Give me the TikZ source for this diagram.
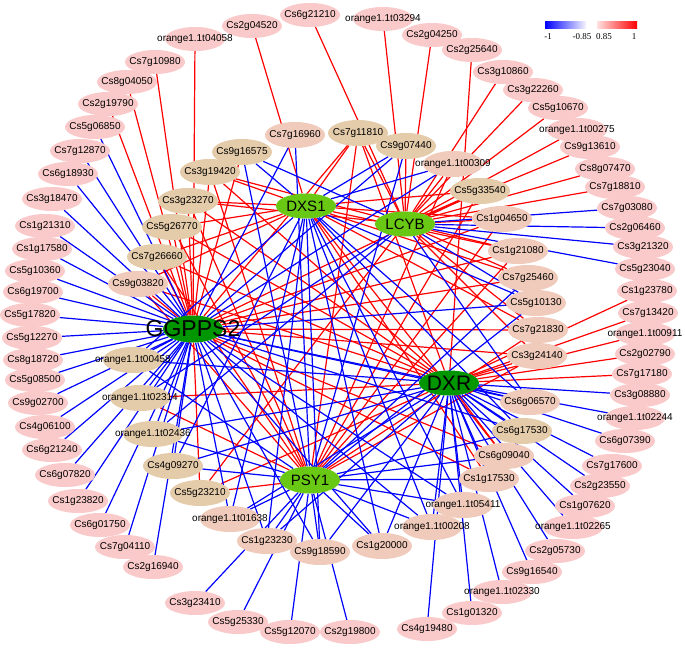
\documentclass[tikz,border=0pt]{standalone}
\usepackage{fontspec}
\setmainfont{Liberation Sans}
\newfontfamily\legfont{Liberation Serif}
\usepackage{tikz}
\usetikzlibrary{shapes.geometric}
\pgfdeclarelayer{background}
\pgfsetlayers{background,main}
\definecolor{genefill}{RGB}{250,202,202}
\definecolor{sharedfill}{RGB}{228,203,170}
\definecolor{sharedltfill}{RGB}{240,202,186}
\definecolor{hublt}{RGB}{104,200,20}
\definecolor{hubdk}{RGB}{0,150,0}
\tikzstyle{gene}=[ellipse,fill=genefill,minimum width=60pt,minimum height=24pt,inner sep=0pt,font=\fontsize{10}{12}\selectfont]
\tikzstyle{shared}=[gene,fill=sharedfill,minimum height=26pt]
\tikzstyle{sharedlt}=[gene,fill=sharedltfill,minimum height=26pt]
\tikzstyle{hub}=[ellipse,fill=hublt,minimum width=60pt,minimum height=25pt,inner sep=0pt,font=\fontsize{15}{18}\selectfont]
\tikzstyle{bighub}=[hub,fill=hubdk,font=\fontsize{21}{24}\selectfont]
\tikzstyle{redge}=[draw,red,line width=1.2pt]
\tikzstyle{bedge}=[draw,blue,line width=1.2pt]
\tikzstyle{legend}=[inner sep=0pt,font=\legfont\fontsize{9}{10}\selectfont]

\begin{document}
\begin{tikzpicture}[x=1pt,y=-1pt]
    \useasboundingbox (0,0) rectangle (685,648);
    % Outer ring of genes
    \foreach \pos/\name in {{(252,26)/Cs2g04520}, {(310,15)/Cs6g21210}, {(432,35)/Cs2g04250},
        {(472,50)/Cs2g25640}, {(503,72)/Cs3g10860}, {(533,90)/Cs3g22260}, {(558,108)/Cs5g10670},
        {(590,147)/Cs9g13610}, {(605,169)/Cs8g07470}, {(615,187)/Cs7g18810}, {(627,208)/Cs7g03080},
        {(635,228)/Cs2g06460}, {(643,247)/Cs3g21320}, {(645,269)/Cs5g23040}, {(647,291)/Cs1g23780},
        {(648,313)/Cs7g13420}, {(645,354)/Cs2g02790}, {(642,374)/Cs7g17180}, {(640,395)/Cs3g08880},
        {(625,441)/Cs6g07390}, {(612,466)/Cs7g17600}, {(600,486)/Cs2g23550}, {(585,506)/Cs1g07620},
        {(555,551)/Cs2g05730}, {(532,572)/Cs9g16540}, {(472,613)/Cs1g01320}, {(427,629)/Cs4g19480},
        {(350,632)/Cs2g19800}, {(290,632)/Cs5g12070}, {(238,622)/Cs5g25330}, {(195,603)/Cs3g23410},
        {(153,567)/Cs2g16940}, {(125,547)/Cs7g04110}, {(100,525)/Cs6g01750}, {(78,501)/Cs1g23820},
        {(65,475)/Cs6g07820}, {(52,450)/Cs6g21240}, {(45,427)/Cs4g06100}, {(38,403)/Cs9g02700},
        {(35,380)/Cs5g08500}, {(33,360)/Cs8g18720}, {(32,338)/Cs5g12270}, {(30,315)/Cs5g17820},
        {(33,292)/Cs6g19700}, {(35,271)/Cs5g10360}, {(42,249)/Cs1g17580}, {(45,226)/Cs1g21310},
        {(52,199)/Cs3g18470}, {(68,174)/Cs6g18930}, {(80,151)/Cs7g12870}, {(95,127)/Cs5g06850},
        {(108,104)/Cs2g19790}, {(127,82)/Cs8g04050}, {(155,62)/Cs7g10980}}
        \node[gene] (\name) at \pos {\makebox[0pt]{\name}};
    \foreach \pos/\num in {{(195,39)/04058}, {(383,19)/03294}, {(577,130)/00275}, {(645,334)/00911},
        {(635,418)/02244}, {(573,527)/02265}, {(502,592)/02330}}
        \node[gene] (o\num) at \pos {\makebox[0pt]{orange1.1t\num}};
    % Genes shared by several hubs
    \foreach \pos/\name in {{(242,152)/Cs9g16575}, {(210,172)/Cs3g19420}, {(188,201)/Cs3g23270},
        {(172,227)/Cs5g26770}, {(157,257)/Cs7g26660}, {(358,133)/Cs7g11810}, {(406,146)/Cs9g07440},
        {(480,191)/Cs5g33540}, {(173,466)/Cs4g09270}, {(200,493)/Cs5g23210}, {(522,431)/Cs6g17530}}
        \node[shared] (\name) at \pos {\makebox[0pt]{\name}};
    \foreach \pos/\num in {{(133,360)/00458}, {(140,398)/02314}, {(153,434)/02436}}
        \node[shared] (o\num) at \pos {\makebox[0pt]{orange1.1t\num}};
    \foreach \pos/\name in {{(295,135)/Cs7g16960}, {(138,284)/Cs9g03820}, {(502,219)/Cs1g04650},
        {(518,251)/Cs1g21080}, {(528,278)/Cs7g25460}, {(536,303)/Cs5g10130}, {(538,330)/Cs7g21830},
        {(537,356)/Cs3g24140}, {(530,402)/Cs6g06570}, {(504,456)/Cs6g09040}, {(489,479)/Cs1g17530},
        {(382,546)/Cs1g20000}, {(320,552)/Cs9g18590}, {(267,541)/Cs1g23230}}
        \node[sharedlt] (\name) at \pos {\makebox[0pt]{\name}};
    \foreach \pos/\num in {{(453,164)/00309}, {(463,505)/05411}, {(432,527)/00208}, {(230,519)/01638}}
        \node[sharedlt] (o\num) at \pos {\makebox[0pt]{orange1.1t\num}};
    % Hubs
    \node[hub] (DXS1) at (306,206) {\makebox[0pt]{DXS1}};
    \node[hub] (LCYB) at (405,224) {\makebox[0pt]{LCYB}};
    \node[hub,minimum height=27pt] (PSY1) at (310,480) {\makebox[0pt]{PSY1}};
    \node[bighub,minimum height=27pt,font=\fontsize{23}{27}\selectfont] (GGPPS2) at (193,329) {\makebox[0pt]{GGPPS2}};
    \node[bighub] (DXR) at (449,383) {\makebox[0pt]{DXR}};
    % Legend
    \shade[left color=blue,right color=blue!4] (545,21) rectangle (586,28);
    \shade[left color=red!12,right color=red] (597,21) rectangle (637,28);
    \foreach \pos/\name/\txt in {{(548,37)/lmone/-1}, {(582,37)/lmlow/-0.85}, {(604,37)/lplow/0.85}, {(634,37)/lpone/1}}
        \node[legend] (\name) at \pos {\txt};
    % Connect genes with hubs
    \begin{pgfonlayer}{background}
    \foreach \source/\dest in {o04058/GGPPS2, Cs7g10980/GGPPS2, Cs8g04050/GGPPS2, Cs2g19790/GGPPS2,
        Cs2g04520/DXS1, Cs6g21210/LCYB, o03294/LCYB, Cs2g04250/LCYB, Cs2g25640/DXR, Cs3g10860/LCYB,
        Cs3g22260/LCYB, Cs5g10670/LCYB, o00275/LCYB, Cs9g13610/LCYB, Cs8g07470/LCYB, Cs7g18810/LCYB,
        Cs1g23780/DXR, Cs7g13420/DXR, o00911/DXR, Cs2g02790/DXR, Cs7g17180/DXR,
        Cs9g16575/GGPPS2, Cs3g19420/DXS1, Cs3g19420/GGPPS2, Cs3g19420/LCYB, Cs3g19420/DXR, Cs3g19420/PSY1,
        Cs3g23270/DXS1, Cs3g23270/GGPPS2, Cs3g23270/LCYB, Cs3g23270/DXR, Cs3g23270/PSY1,
        Cs5g26770/DXS1, Cs5g26770/GGPPS2, Cs5g26770/DXR, Cs5g26770/PSY1,
        Cs7g26660/DXS1, Cs7g26660/GGPPS2, Cs7g26660/DXR, Cs7g26660/PSY1,
        Cs9g03820/GGPPS2, Cs9g03820/DXS1, Cs9g03820/DXR, Cs9g03820/PSY1,
        Cs7g11810/GGPPS2, Cs7g11810/DXS1, Cs7g11810/LCYB, Cs7g11810/PSY1, Cs7g11810/DXR,
        Cs9g07440/LCYB, o00309/LCYB, o00309/PSY1,
        Cs5g33540/LCYB, Cs5g33540/DXS1, Cs5g33540/GGPPS2, Cs5g33540/PSY1,
        Cs1g04650/LCYB, Cs1g04650/DXS1, Cs1g04650/GGPPS2, Cs1g04650/PSY1,
        Cs1g21080/LCYB, Cs1g21080/DXS1, Cs1g21080/PSY1, Cs1g21080/GGPPS2,
        Cs7g25460/LCYB, Cs7g25460/DXS1, Cs7g25460/GGPPS2,
        Cs7g21830/LCYB, Cs7g21830/DXS1, Cs7g21830/GGPPS2, Cs7g21830/PSY1,
        Cs3g24140/DXR, Cs3g24140/GGPPS2, Cs3g24140/LCYB, Cs3g24140/PSY1,
        Cs6g09040/DXR, Cs6g09040/GGPPS2, Cs6g09040/DXS1, Cs1g17530/GGPPS2, Cs1g17530/DXS1,
        Cs5g23210/PSY1, Cs5g23210/GGPPS2, Cs5g23210/DXR, Cs5g23210/LCYB,
        o02314/DXR, o02314/PSY1}
        \path[redge] (\source) -- (\dest);
    \foreach \source/\dest in {Cs7g03080/LCYB, Cs2g06460/LCYB, Cs3g21320/LCYB, Cs5g23040/LCYB,
        Cs3g08880/DXR, o02244/DXR, Cs6g07390/DXR, Cs7g17600/DXR, Cs2g23550/DXR, Cs1g07620/DXR,
        o02265/DXR, Cs2g05730/DXR, Cs9g16540/DXR, o02330/DXR, Cs1g01320/DXR, Cs4g19480/DXR,
        Cs2g19800/PSY1, Cs5g12070/PSY1, Cs5g25330/PSY1, Cs3g23410/PSY1,
        Cs2g16940/GGPPS2, Cs7g04110/GGPPS2, Cs6g01750/GGPPS2, Cs1g23820/GGPPS2, Cs6g07820/GGPPS2,
        Cs6g21240/GGPPS2, Cs4g06100/GGPPS2, Cs9g02700/GGPPS2, Cs5g08500/GGPPS2, Cs8g18720/GGPPS2,
        Cs5g12270/GGPPS2, Cs5g17820/GGPPS2, Cs6g19700/GGPPS2, Cs5g10360/GGPPS2, Cs1g17580/GGPPS2,
        Cs1g21310/GGPPS2, Cs3g18470/GGPPS2, Cs6g18930/GGPPS2, Cs7g12870/GGPPS2, Cs5g06850/GGPPS2,
        Cs9g16575/DXS1, Cs9g16575/LCYB, Cs9g16575/PSY1,
        Cs7g16960/GGPPS2, Cs7g16960/PSY1, Cs9g07440/DXS1, Cs9g07440/GGPPS2, Cs9g07440/PSY1,
        o00309/DXS1, o00309/GGPPS2, Cs7g25460/PSY1,
        Cs5g10130/LCYB, Cs5g10130/DXS1, Cs5g10130/PSY1, Cs5g10130/GGPPS2,
        Cs6g06570/DXR, Cs6g06570/GGPPS2, Cs6g06570/LCYB, Cs6g06570/DXS1,
        Cs6g17530/DXR, Cs6g17530/GGPPS2, Cs6g17530/PSY1, Cs6g17530/DXS1,
        Cs6g09040/PSY1, Cs1g17530/DXR, Cs1g17530/PSY1,
        o05411/DXR, o05411/GGPPS2, o05411/PSY1, o05411/DXS1,
        o00208/DXR, o00208/GGPPS2, o00208/DXS1, o00208/PSY1,
        Cs1g20000/PSY1, Cs1g20000/GGPPS2, Cs1g20000/DXS1, Cs1g20000/DXR,
        Cs9g18590/PSY1, Cs9g18590/GGPPS2, Cs9g18590/DXR, Cs9g18590/DXS1,
        Cs1g23230/PSY1, Cs1g23230/GGPPS2, Cs1g23230/DXR, Cs1g23230/DXS1,
        o01638/PSY1, o01638/GGPPS2, o01638/DXR, o01638/DXS1,
        Cs4g09270/PSY1, Cs4g09270/GGPPS2, Cs4g09270/DXR, Cs4g09270/DXS1,
        o02436/PSY1, o02436/GGPPS2, o02436/DXR, o02436/LCYB,
        o02314/GGPPS2, o02314/LCYB, o00458/DXR, o00458/GGPPS2, o00458/PSY1, o00458/DXS1,
        GGPPS2/DXR}
        \path[bedge] (\source) -- (\dest);
    \end{pgfonlayer}
\end{tikzpicture}
\end{document}
